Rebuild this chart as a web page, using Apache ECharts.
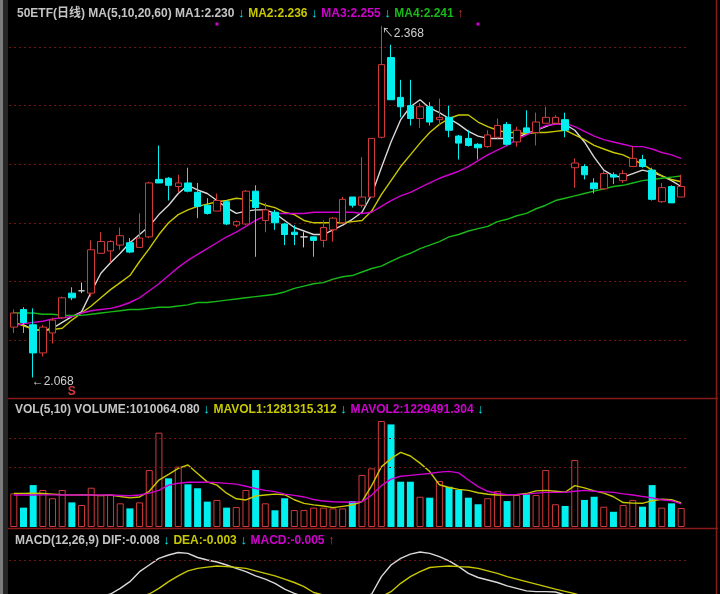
<!DOCTYPE html>
<html lang="zh">
<head>
<meta charset="UTF-8">
<title>50ETF 日线</title>
<script src="https://cdn.jsdelivr.net/npm/echarts@6/dist/echarts.min.js"></script>
<style>
  html, body { margin: 0; padding: 0; background: #000; }
  #main { width: 720px; height: 594px; }
</style>
</head>
<body>
<div id="main"></div>
<script>
// [open, close, low, high]
var candles = [
  [2.111, 2.123, 2.106, 2.126], [2.126, 2.115, 2.106, 2.128], [2.113, 2.089, 2.068, 2.127], [2.089, 2.111, 2.086, 2.113],
  [2.106, 2.117, 2.097, 2.119], [2.119, 2.136, 2.118, 2.137], [2.140, 2.136, 2.134, 2.145], [2.142, 2.142, 2.140, 2.149],
  [2.140, 2.177, 2.137, 2.185], [2.174, 2.184, 2.174, 2.192], [2.176, 2.184, 2.166, 2.185], [2.181, 2.189, 2.177, 2.196],
  [2.183, 2.175, 2.174, 2.187], [2.179, 2.187, 2.179, 2.208], [2.188, 2.234, 2.187, 2.235], [2.237, 2.234, 2.234, 2.266],
  [2.238, 2.232, 2.219, 2.239], [2.231, 2.234, 2.226, 2.241], [2.234, 2.227, 2.226, 2.247], [2.226, 2.214, 2.204, 2.234],
  [2.215, 2.208, 2.207, 2.221], [2.210, 2.219, 2.210, 2.225], [2.218, 2.199, 2.198, 2.219], [2.198, 2.201, 2.196, 2.202],
  [2.199, 2.227, 2.198, 2.228], [2.227, 2.213, 2.171, 2.232], [2.202, 2.211, 2.192, 2.217], [2.209, 2.200, 2.194, 2.211],
  [2.199, 2.190, 2.181, 2.200], [2.192, 2.190, 2.181, 2.198], [2.188, 2.188, 2.179, 2.192], [2.188, 2.185, 2.171, 2.188],
  [2.185, 2.196, 2.179, 2.202], [2.194, 2.204, 2.184, 2.205], [2.200, 2.220, 2.200, 2.222], [2.222, 2.215, 2.213, 2.222],
  [2.215, 2.222, 2.213, 2.256], [2.222, 2.272, 2.222, 2.272], [2.273, 2.335, 2.272, 2.368], [2.341, 2.305, 2.305, 2.352],
  [2.307, 2.299, 2.290, 2.322], [2.300, 2.289, 2.283, 2.322], [2.289, 2.299, 2.281, 2.302], [2.299, 2.286, 2.283, 2.303],
  [2.288, 2.290, 2.283, 2.306], [2.290, 2.279, 2.273, 2.300], [2.274, 2.268, 2.254, 2.275], [2.272, 2.266, 2.265, 2.279],
  [2.267, 2.264, 2.254, 2.268], [2.265, 2.275, 2.264, 2.279], [2.273, 2.283, 2.272, 2.289], [2.284, 2.267, 2.266, 2.286],
  [2.269, 2.279, 2.265, 2.282], [2.281, 2.277, 2.277, 2.296], [2.277, 2.286, 2.266, 2.294], [2.285, 2.290, 2.285, 2.299],
  [2.285, 2.290, 2.284, 2.292], [2.288, 2.279, 2.273, 2.294], [2.247, 2.251, 2.230, 2.255], [2.248, 2.241, 2.237, 2.250],
  [2.234, 2.229, 2.225, 2.238], [2.229, 2.242, 2.228, 2.244], [2.241, 2.239, 2.233, 2.243], [2.236, 2.242, 2.234, 2.245],
  [2.248, 2.255, 2.248, 2.265], [2.254, 2.248, 2.247, 2.258], [2.245, 2.220, 2.219, 2.247], [2.218, 2.230, 2.217, 2.234],
  [2.231, 2.217, 2.217, 2.232], [2.222, 2.231, 2.222, 2.241]
];

var ma5 = [2.114, 2.113, 2.109, 2.108, 2.110, 2.115, 2.120, 2.124, 2.141, 2.157, 2.166, 2.174, 2.183, 2.190, 2.197,
  2.207, 2.215, 2.225, 2.232, 2.228, 2.225, 2.219, 2.213, 2.208, 2.210, 2.211, 2.211, 2.208, 2.202, 2.196,
  2.193, 2.190, 2.190, 2.194, 2.198, 2.203, 2.209, 2.224, 2.247, 2.269, 2.288, 2.299, 2.305, 2.298, 2.294,
  2.289, 2.284, 2.278, 2.274, 2.272, 2.272, 2.272, 2.273, 2.276, 2.279, 2.282, 2.285, 2.284, 2.279, 2.269,
  2.256, 2.245, 2.240, 2.239, 2.242, 2.245, 2.243, 2.240, 2.236, 2.231];
var ma10 = [2.115, 2.112, 2.109, 2.108, 2.109, 2.110, 2.117, 2.123, 2.129, 2.136, 2.143, 2.149, 2.155, 2.167, 2.178,
  2.190, 2.200, 2.207, 2.211, 2.214, 2.216, 2.218, 2.219, 2.221, 2.220, 2.218, 2.215, 2.213, 2.209, 2.207,
  2.202, 2.200, 2.200, 2.200, 2.200, 2.201, 2.202, 2.210, 2.224, 2.236, 2.248, 2.258, 2.268, 2.277, 2.284,
  2.289, 2.292, 2.292, 2.286, 2.282, 2.279, 2.277, 2.277, 2.276, 2.277, 2.277, 2.278, 2.279, 2.275, 2.271,
  2.266, 2.263, 2.260, 2.258, 2.254, 2.250, 2.245, 2.240, 2.237, 2.235];
var ma20 = [2.112, 2.114, 2.115, 2.116, 2.118, 2.119, 2.120, 2.123, 2.125, 2.126, 2.127, 2.129, 2.132, 2.136, 2.142,
  2.148, 2.155, 2.162, 2.168, 2.173, 2.178, 2.183, 2.188, 2.192, 2.197, 2.202, 2.206, 2.208, 2.208, 2.208,
  2.208, 2.209, 2.209, 2.209, 2.209, 2.209, 2.208, 2.209, 2.214, 2.219, 2.223, 2.226, 2.230, 2.234, 2.238,
  2.241, 2.244, 2.248, 2.253, 2.258, 2.262, 2.266, 2.271, 2.275, 2.279, 2.283, 2.284, 2.285, 2.282, 2.278,
  2.274, 2.271, 2.269, 2.267, 2.265, 2.265, 2.263, 2.260, 2.258, 2.255];
var ma60 = [2.123, 2.123, 2.123, 2.122, 2.122, 2.121, 2.121, 2.121, 2.122, 2.123, 2.124, 2.125, 2.126, 2.126, 2.127,
  2.128, 2.128, 2.129, 2.130, 2.132, 2.132, 2.133, 2.134, 2.135, 2.136, 2.137, 2.138, 2.139, 2.141, 2.144,
  2.146, 2.148, 2.149, 2.152, 2.154, 2.155, 2.158, 2.161, 2.163, 2.167, 2.171, 2.174, 2.178, 2.181, 2.184,
  2.188, 2.190, 2.193, 2.195, 2.197, 2.201, 2.203, 2.206, 2.208, 2.212, 2.215, 2.219, 2.221, 2.223, 2.225,
  2.227, 2.229, 2.231, 2.232, 2.234, 2.236, 2.237, 2.238, 2.239, 2.240];

// volume in millions, 1 = red (up) bar, 0 = cyan
var volume = [1.79, 1.03, 2.23, 1.97, 1.53, 1.97, 1.31, 1.17, 2.09, 1.70, 1.70, 1.26, 0.99, 1.31, 3.03,
  5.02, 2.59, 3.21, 2.27, 2.06, 1.35, 1.44, 1.03, 1.06, 1.97, 3.03, 1.26, 0.89, 1.53, 0.90,
  0.90, 1.03, 1.03, 0.99, 0.99, 1.38, 2.77, 3.12, 5.64, 5.46, 2.41, 2.41, 1.61, 1.56, 2.45,
  2.14, 1.97, 1.56, 1.21, 1.53, 1.92, 1.38, 1.70, 1.74, 1.70, 3.03, 1.21, 1.12, 3.56, 1.44,
  1.61, 1.08, 0.81, 1.17, 1.44, 1.08, 2.23, 1.03, 1.26, 1.01];
var volUp = [1, 0, 0, 1, 1, 1, 0, 1, 1, 1, 1, 1, 0, 1, 1, 1, 0, 1, 0, 0, 0, 1, 0, 1, 1, 0, 1, 0, 0, 1,
  1, 1, 1, 1, 1, 0, 1, 1, 1, 0, 0, 0, 1, 0, 1, 0, 0, 0, 0, 1, 1, 0, 1, 0, 1, 1, 1, 0, 1, 0,
  0, 1, 0, 1, 1, 0, 0, 1, 0, 1];
var mavol1 = [1.79, 1.79, 1.80, 1.78, 1.75, 1.72, 1.70, 1.72, 1.70, 1.68, 1.70, 1.62, 1.55, 1.60, 1.90,
  2.50, 2.80, 3.12, 3.30, 2.85, 2.40, 2.23, 1.80, 1.50, 1.44, 1.65, 1.70, 1.75, 1.72, 1.45,
  1.26, 1.18, 1.12, 1.03, 1.10, 1.17, 1.35, 2.20, 3.20, 3.65, 3.97, 3.78, 3.40, 2.95, 2.25,
  2.10, 2.00, 1.95, 1.82, 1.74, 1.70, 1.70, 1.72, 1.78, 1.92, 1.95, 1.90, 1.85, 2.20, 2.08,
  1.92, 1.80, 1.61, 1.30, 1.27, 1.26, 1.40, 1.48, 1.45, 1.28];
var mavol2 = [1.70, 1.70, 1.70, 1.71, 1.71, 1.70, 1.70, 1.70, 1.70, 1.70, 1.70, 1.68, 1.66, 1.70, 1.80,
  1.95, 2.23, 2.33, 2.38, 2.38, 2.38, 2.36, 2.32, 2.28, 2.17, 2.05, 1.95, 1.88, 1.75, 1.68,
  1.60, 1.46, 1.38, 1.34, 1.33, 1.32, 1.35, 1.70, 2.20, 2.55, 2.70, 2.75, 2.80, 2.85, 2.92,
  2.96, 2.88, 2.50, 2.15, 1.90, 1.78, 1.72, 1.73, 1.75, 1.80, 1.84, 1.84, 1.84, 1.90, 1.95,
  1.90, 1.87, 1.84, 1.76, 1.70, 1.62, 1.55, 1.45, 1.40, 1.23];

var dif = [-0.004, -0.005, -0.007, -0.007, -0.005, -0.003, 0.000, 0.003, 0.006, 0.008, 0.0096, 0.013, 0.017, 0.023, 0.027,
  0.031, 0.033, 0.0345, 0.034, 0.0315, 0.030, 0.0288, 0.027, 0.025, 0.023, 0.0205, 0.0185, 0.016, 0.0125, 0.010,
  0.008, 0.006, 0.005, 0.004, 0.004, 0.005, 0.007, 0.0096, 0.020, 0.027, 0.031, 0.0335, 0.0348, 0.034, 0.032,
  0.0295, 0.026, 0.022, 0.0195, 0.018, 0.0165, 0.0145, 0.013, 0.0115, 0.011, 0.011, 0.0108, 0.009, 0.006, 0.003,
  0.000, -0.002, -0.004, -0.005, -0.005, -0.005, -0.006, -0.007, -0.008, -0.008];
var dea = [-0.002, -0.003, -0.004, -0.004, -0.004, -0.004, -0.003, -0.002, -0.001, 0.001, 0.002, 0.004, 0.006, 0.008, 0.0096,
  0.013, 0.017, 0.0205, 0.0235, 0.025, 0.0257, 0.0264, 0.026, 0.0256, 0.025, 0.0235, 0.022, 0.0205, 0.0185, 0.0165,
  0.014, 0.0105, 0.009, 0.008, 0.007, 0.0065, 0.0065, 0.007, 0.008, 0.011, 0.016, 0.020, 0.023, 0.0255, 0.026,
  0.0264, 0.026, 0.0258, 0.025, 0.0235, 0.022, 0.020, 0.0185, 0.017, 0.0155, 0.014, 0.0125, 0.0112, 0.0098, 0.008,
  0.006, 0.005, 0.003, 0.002, 0.001, 0.000, -0.001, -0.002, -0.002, -0.003];

var volGrid = [3.19, 4.73];
var macdGrid = [0.0336];

var categories = candles.map(function (d, i) { return String(i + 1); });

var RED = '#d23a3a', CYAN = '#00f0f0', YEL = '#c8c800', MAG = '#d000d0', GRN = '#18b818', WHT = '#d8d8d8', GRY = '#c4c4c4';
var FONT = 'Liberation Sans, Arial, Noto Sans CJK SC, sans-serif';

var chart = echarts.init(document.getElementById('main'), null, { renderer: 'canvas' });

function richText() {
  return {
    w: { color: GRY, fontSize: 12, fontFamily: FONT },
    c: { color: CYAN, fontSize: 13, fontFamily: FONT },
    y: { color: YEL, fontSize: 12, fontFamily: FONT },
    m: { color: MAG, fontSize: 12, fontFamily: FONT },
    g: { color: GRN, fontSize: 12, fontFamily: FONT },
    r: { color: RED, fontSize: 13, fontFamily: FONT }
  };
}

var volData = volume.map(function (v, i) {
  return {
    value: v,
    itemStyle: volUp[i] ? { color: '#000', borderColor: RED, borderWidth: 1 } : { color: CYAN, borderColor: CYAN, borderWidth: 0 }
  };
});

function maLine(name, data, color, xi, yi) {
  return {
    name: name, type: 'line', data: data, xAxisIndex: xi, yAxisIndex: yi,
    symbol: 'none', smooth: false, silent: true, clip: true,
    lineStyle: { color: color, width: 1.4 }, z: 3
  };
}

var dotted = { color: '#6e1414', type: [2, 3], width: 1 };

var option = {
  backgroundColor: '#000',
  animation: false,
  title: [
    {
      left: 12, top: 2,
      text: '{w|50ETF(日线) MA(5,10,20,60) MA1:2.230}{c| ↓ }{y|MA2:2.236}{c| ↓ }{m|MA3:2.255}{c| ↓ }{g|MA4:2.241}{r| ↑}',
      textStyle: { rich: richText() }
    },
    {
      left: 10, top: 398,
      text: '{w|VOL(5,10) VOLUME:1010064.080}{c| ↓ }{y|MAVOL1:1281315.312}{c| ↓ }{m|MAVOL2:1229491.304}{c| ↓}',
      textStyle: { rich: richText() }
    },
    {
      left: 10, top: 529,
      text: '{w|MACD(12,26,9) DIF:-0.008}{c| ↓ }{y|DEA:-0.003}{c| ↓ }{m|MACD:-0.005}{r| ↑}',
      textStyle: { rich: richText() }
    }
  ],
  grid: [
    { left: 9, width: 677, top: 6, height: 392.6 },
    { left: 9, width: 677, top: 412, height: 115 },
    { left: 9, width: 677, top: 545, height: 49 }
  ],
  xAxis: [0, 1, 2].map(function (g) {
    return {
      type: 'category', gridIndex: g, data: categories, boundaryGap: true,
      axisLine: { show: false }, axisTick: { show: false }, axisLabel: { show: false }, splitLine: { show: false }
    };
  }),
  yAxis: [
    {
      gridIndex: 0, min: 2.05, max: 2.385, interval: 0.05,
      axisLine: { show: false }, axisTick: { show: false }, axisLabel: { show: false },
      splitLine: { show: true, showMinLine: false, showMaxLine: false, lineStyle: dotted }
    },
    {
      gridIndex: 1, min: 0, max: 6.12,
      axisLine: { show: false }, axisTick: { show: false }, axisLabel: { show: false }, splitLine: { show: false }
    },
    {
      // only the upper part of the MACD pane fits in the picture
      gridIndex: 2, min: 0.0096, max: 0.039,
      axisLine: { show: false }, axisTick: { show: false }, axisLabel: { show: false }, splitLine: { show: false }
    }
  ],
  series: [
    {
      name: 'K', type: 'candlestick', data: candles, xAxisIndex: 0, yAxisIndex: 0,
      barWidth: 7, silent: true, z: 4,
      itemStyle: {
        color: '#000', color0: CYAN, borderColor: RED, borderColor0: CYAN,
        borderColorDoji: '#d0d0d0', borderWidth: 1
      },
      markPoint: {
        silent: true, animation: false,
        symbol: 'rect', symbolSize: 1,
        itemStyle: { color: 'rgba(0,0,0,0)' },
        label: { show: true, fontFamily: FONT, fontSize: 12, color: '#d0d0d0' },
        data: [
          { coord: [2, 2.068], label: { formatter: '←2.068', position: 'right', distance: 0, offset: [-2, 4] } },
          { coord: [38, 2.368], label: { formatter: '↖2.368', position: 'right', distance: 0, offset: [0, 8] } },
          { coord: [6, 2.0556], label: { formatter: 'S', position: 'inside', color: RED, fontWeight: 'bold', fontSize: 12 } },
          { coord: [21, 2.3696], symbolSize: 3, itemStyle: { color: MAG }, label: { show: false } },
          { coord: [48, 2.3696], symbolSize: 3, itemStyle: { color: MAG }, label: { show: false } }
        ]
      }
    },
    maLine('MA5', ma5, WHT, 0, 0),
    maLine('MA10', ma10, YEL, 0, 0),
    maLine('MA20', ma20, MAG, 0, 0),
    maLine('MA60', ma60, GRN, 0, 0),
    {
      name: 'VOL', type: 'bar', data: volData, xAxisIndex: 1, yAxisIndex: 1,
      barWidth: 7, silent: true, z: 2,
      markLine: {
        silent: true, symbol: 'none', animation: false, label: { show: false },
        lineStyle: dotted,
        data: volGrid.map(function (v) { return { yAxis: v }; })
      }
    },
    maLine('MAVOL1', mavol1, YEL, 1, 1),
    maLine('MAVOL2', mavol2, MAG, 1, 1),
    {
      name: 'DIF', type: 'line', data: dif, xAxisIndex: 2, yAxisIndex: 2,
      symbol: 'none', silent: true, clip: true, lineStyle: { color: WHT, width: 1.4 },
      markLine: {
        silent: true, symbol: 'none', animation: false, label: { show: false },
        lineStyle: dotted,
        data: macdGrid.map(function (v) { return { yAxis: v }; })
      }
    },
    maLine('DEA', dea, YEL, 2, 2)
  ],
  graphic: [
    { type: 'rect', left: 0, top: 0, shape: { width: 3, height: 594 }, style: { fill: '#7c7c7c' }, silent: true },
    { type: 'rect', left: 3, top: 0, shape: { width: 5, height: 594 }, style: { fill: '#262626' }, silent: true },
    { type: 'line', shape: { x1: 8, y1: 398.5, x2: 718, y2: 398.5 }, style: { stroke: '#8a1a1a', lineWidth: 1.5 }, silent: true },
    { type: 'line', shape: { x1: 8, y1: 528.5, x2: 718, y2: 528.5 }, style: { stroke: '#8a1a1a', lineWidth: 1.5 }, silent: true },
    { type: 'line', shape: { x1: 716.5, y1: 0, x2: 716.5, y2: 594 }, style: { stroke: '#8a1a1a', lineWidth: 1.5 }, silent: true }
  ]
};

chart.setOption(option);
</script>
</body>
</html>
